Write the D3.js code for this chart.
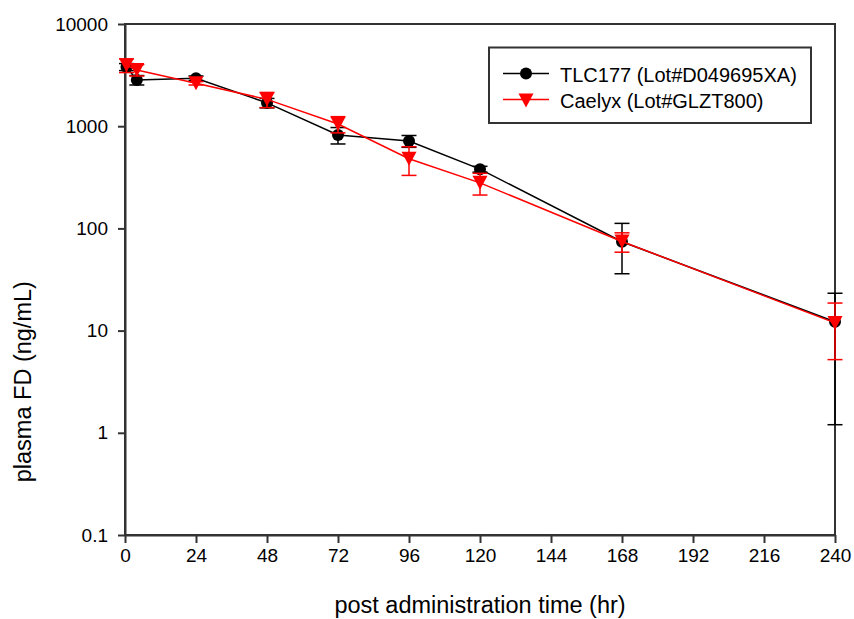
<!DOCTYPE html>
<html>
<head>
<meta charset="utf-8">
<script src="https://cdn.jsdelivr.net/npm/d3@7"></script>
<style>
  body { margin: 0; background: #fff; }
  svg { display: block; font-family: "Liberation Sans", Arial, sans-serif; }
</style>
</head>
<body>
<svg width="854" height="619"></svg>
<script>
// data
const times = [0.5, 4, 24, 48, 72, 96, 120, 168, 240];
const tlcMean = [3800, 2830, 2950, 1690, 820, 716, 380, 74, 12.2];
const tlcSd = [300, 300, 150, 180, 150, 95, 25, 38, 11];
const caelyxMean = [3950, 3550, 2630, 1830, 1050, 480, 279, 74.5, 11.9];
const caelyxSd = [600, 450, 100, 310, 190, 150, 67, 16, 6.7];

const seriesNames = ["TLC177 (Lot#D049695XA)", "Caelyx (Lot#GLZT800)"];
const xTicks = [0, 24, 48, 72, 96, 120, 144, 168, 192, 216, 240];
const yTicks = [0.1, 1, 10, 100, 1000, 10000];
const yTickLabels = ["0.1", "1", "10", "100", "1000", "10000"];

const margin = { top: 24, right: 19, bottom: 84, left: 125 };
const width = 854;
const height = 619;
const frameColor = "#333";

const svg = d3.select("svg");

const xScale = d3
  .scaleLinear()
  .domain([0, 240])
  .range([margin.left, width - margin.right]);

const yScale = d3
  .scaleLog()
  .domain([0.1, 10000])
  .range([height - margin.bottom, margin.top]);

// frame (top and right sides)
svg
  .append("rect")
  .attr("x", margin.left)
  .attr("y", margin.top)
  .attr("width", xScale(240) - margin.left)
  .attr("height", yScale(0.1) - margin.top)
  .attr("fill", "none")
  .attr("stroke", frameColor)
  .attr("stroke-width", 2);

// axes
const xAxis = d3
  .axisBottom(xScale)
  .tickValues(xTicks)
  .tickSizeInner(8)
  .tickSizeOuter(0)
  .tickPadding(6);

const yAxis = d3
  .axisLeft(yScale)
  .tickValues(yTicks)
  .tickFormat((d, i) => yTickLabels[i])
  .tickSizeInner(7)
  .tickSizeOuter(0)
  .tickPadding(10);

const gx = svg
  .append("g")
  .attr("transform", `translate(0, ${yScale(0.1)})`)
  .call(xAxis);
const gy = svg
  .append("g")
  .attr("transform", `translate(${margin.left}, 0)`)
  .call(yAxis);

[gx, gy].forEach(g => {
  g.select(".domain").attr("stroke", frameColor).attr("stroke-width", 2);
  g.selectAll(".tick line").attr("stroke", frameColor).attr("stroke-width", 2);
  g.selectAll(".tick text")
    .attr("fill", "#000")
    .style("font-size", "19px")
    .style("font-family", "Liberation Sans, Arial, sans-serif");
});

// axis titles
svg
  .append("text")
  .attr("x", xScale(120))
  .attr("y", 613)
  .attr("text-anchor", "middle")
  .style("font-size", "23.5px")
  .text("post administration time (hr)");

svg
  .append("text")
  .attr("transform", `translate(31, ${yScale(Math.sqrt(10))}) rotate(-90)`)
  .attr("text-anchor", "middle")
  .style("font-size", "23.5px")
  .text("plasma FD (ng/mL)");

function toPoints(means, sds) {
  return times.map((t, i) => ({
    t: t,
    mean: means[i],
    lo: Math.max(means[i] - sds[i], 0.1),
    hi: means[i] + sds[i]
  }));
}

const tlcData = toPoints(tlcMean, tlcSd);
const caelyxData = toPoints(caelyxMean, caelyxSd);

const line = d3
  .line()
  .x(d => xScale(d.t))
  .y(d => yScale(d.mean));

const triangleDown = "M-7.5,-7L7.5,-7L0,7Z";
const capHalf = 7.5;

function drawSeries(data, color, marker) {
  const g = svg.append("g");

  // error bars
  const eb = g.selectAll(".eb").data(data).enter().append("g");
  eb.append("line")
    .attr("x1", d => xScale(d.t))
    .attr("x2", d => xScale(d.t))
    .attr("y1", d => yScale(d.lo))
    .attr("y2", d => yScale(d.hi))
    .attr("stroke", color)
    .attr("stroke-width", 1.5);
  ["lo", "hi"].forEach(k => {
    eb.append("line")
      .attr("x1", d => xScale(d.t) - capHalf)
      .attr("x2", d => xScale(d.t) + capHalf)
      .attr("y1", d => yScale(d[k]))
      .attr("y2", d => yScale(d[k]))
      .attr("stroke", color)
      .attr("stroke-width", 1.5);
  });

  g.append("path")
    .datum(data)
    .attr("d", line)
    .attr("fill", "none")
    .attr("stroke", color)
    .attr("stroke-width", 1.5);

  if (marker === "circle") {
    g.selectAll("circle")
      .data(data)
      .enter()
      .append("circle")
      .attr("cx", d => xScale(d.t))
      .attr("cy", d => yScale(d.mean))
      .attr("r", 6)
      .attr("fill", color);
  } else {
    g.selectAll(".tri")
      .data(data)
      .enter()
      .append("path")
      .attr("d", triangleDown)
      .attr("transform", d => `translate(${xScale(d.t)}, ${yScale(d.mean)})`)
      .attr("fill", color);
  }
}

drawSeries(tlcData, "#000", "circle");
drawSeries(caelyxData, "#ff0000", "triangle");

// legend
const legend = svg.append("g");
legend
  .append("rect")
  .attr("x", 489)
  .attr("y", 47.5)
  .attr("width", 322)
  .attr("height", 75.5)
  .attr("fill", "#fff")
  .attr("stroke", frameColor)
  .attr("stroke-width", 2);

const legendColors = ["#000", "#ff0000"];
seriesNames.forEach((name, i) => {
  const cy = 73.5 + i * 26;
  legend
    .append("line")
    .attr("x1", 503)
    .attr("x2", 549)
    .attr("y1", cy)
    .attr("y2", cy)
    .attr("stroke", legendColors[i])
    .attr("stroke-width", 1.5);
  if (i === 0) {
    legend
      .append("circle")
      .attr("cx", 526)
      .attr("cy", cy)
      .attr("r", 6)
      .attr("fill", legendColors[i]);
  } else {
    legend
      .append("path")
      .attr("d", triangleDown)
      .attr("transform", `translate(526, ${cy + 1})`)
      .attr("fill", legendColors[i]);
  }
  legend
    .append("text")
    .attr("x", 560)
    .attr("y", cy + 8)
    .style("font-size", "20px")
    .text(name);
});
</script>
</body>
</html>
